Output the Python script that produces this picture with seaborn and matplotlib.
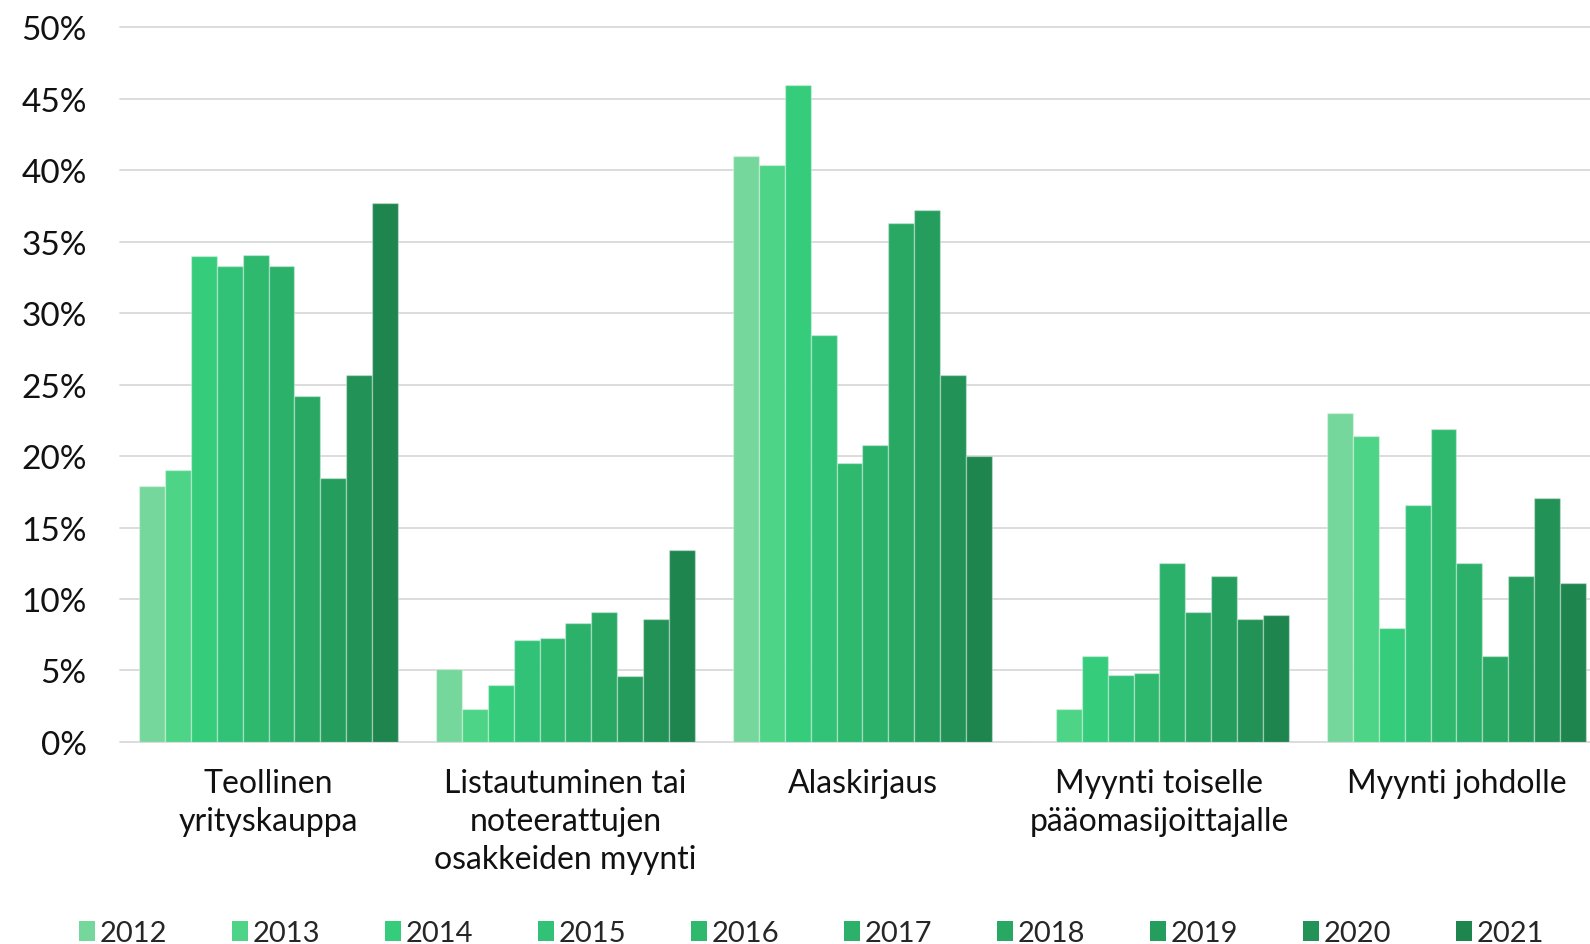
import matplotlib
matplotlib.use("Agg")
import matplotlib.pyplot as plt
import seaborn as sns
import pandas as pd
import numpy as np
from matplotlib.patches import Patch

categories = ["Teollinen\nyrityskauppa",
              "Listautuminen tai\nnoteerattujen\nosakkeiden myynti",
              "Alaskirjaus",
              "Myynti toiselle\npääomasijoittajalle",
              "Myynti johdolle"]
years = ["2012", "2013", "2014", "2015", "2016", "2017", "2018", "2019", "2020", "2021"]

teollinen = [17.9, 19.0, 34.0, 33.3, 34.1, 33.3, 24.2, 18.5, 25.7, 37.7]
listautuminen = [5.1, 2.3, 4.0, 7.1, 7.3, 8.3, 9.1, 4.6, 8.6, 13.4]
alaskirjaus = [41.0, 40.4, 46.0, 28.5, 19.5, 20.8, 36.3, 37.2, 25.7, 20.0]
myynti_toiselle = [0.0, 2.3, 6.0, 4.7, 4.8, 12.5, 9.1, 11.6, 8.6, 8.9]
myynti_johdolle = [23.0, 21.4, 8.0, 16.6, 21.9, 12.5, 6.0, 11.6, 17.1, 11.1]

palette = ["#75D79B", "#4ED487", "#35CC7B", "#32C277", "#2EB96F",
           "#2CB16B", "#29A864", "#259E5D", "#229257", "#1E854F"]

yticks = [0, 5, 10, 15, 20, 25, 30, 35, 40, 45, 50]
ytick_labels = [f"{v}%" for v in yticks]

series = [teollinen, listautuminen, alaskirjaus, myynti_toiselle, myynti_johdolle]
rows = []
for cat, vals in zip(categories, series):
    for yr, v in zip(years, vals):
        rows.append({"category": cat, "year": yr, "value": v})
df = pd.DataFrame(rows)

sns.set_theme(style="white")
plt.rcParams['font.family'] = ['Lato', 'DejaVu Sans']

fig = plt.figure(figsize=(15.9, 9.45), dpi=100)
ax = fig.add_axes([0.0755, 0.2138, 0.9245, 0.7562])

sns.barplot(data=df, x="category", y="value", hue="year", order=categories,
            hue_order=years, palette=palette, width=0.87, gap=0,
            edgecolor=(1, 1, 1, 0.35), linewidth=1.0, saturation=1,
            legend=False, ax=ax)

ax.set_xlim(-0.5, 4.45)
ax.set_ylim(0, 50)
ax.set_yticks(yticks)
ax.set_yticklabels(ytick_labels, fontsize=24, color="#111111")
ax.tick_params(axis="y", length=0, pad=24)
ax.tick_params(axis="x", length=0, pad=19, labelsize=23, labelcolor="#111111")
for lab in ax.get_xticklabels():
    lab.set_linespacing(1.33)
ax.set_xlabel("")
ax.set_ylabel("")
ax.grid(axis="y", color="#d9d9d9", linewidth=1.3)
ax.grid(axis="x", visible=False)
ax.set_axisbelow(True)
for s in ax.spines.values():
    s.set_visible(False)
for line in ax.get_ygridlines():
    line.set_clip_on(False)

handles = [Patch(facecolor=c, edgecolor="none") for c in palette]
fig.legend(handles, years, loc="center", bbox_to_anchor=(0.5105, 1 - 934 / 945),
           ncol=10, frameon=False, fontsize=21, handlelength=0.55,
           handleheight=0.7, handletextpad=0.15, columnspacing=2.23,
           borderaxespad=0, bbox_transform=fig.transFigure)

fig.savefig("out.png", dpi=100, facecolor="white")
